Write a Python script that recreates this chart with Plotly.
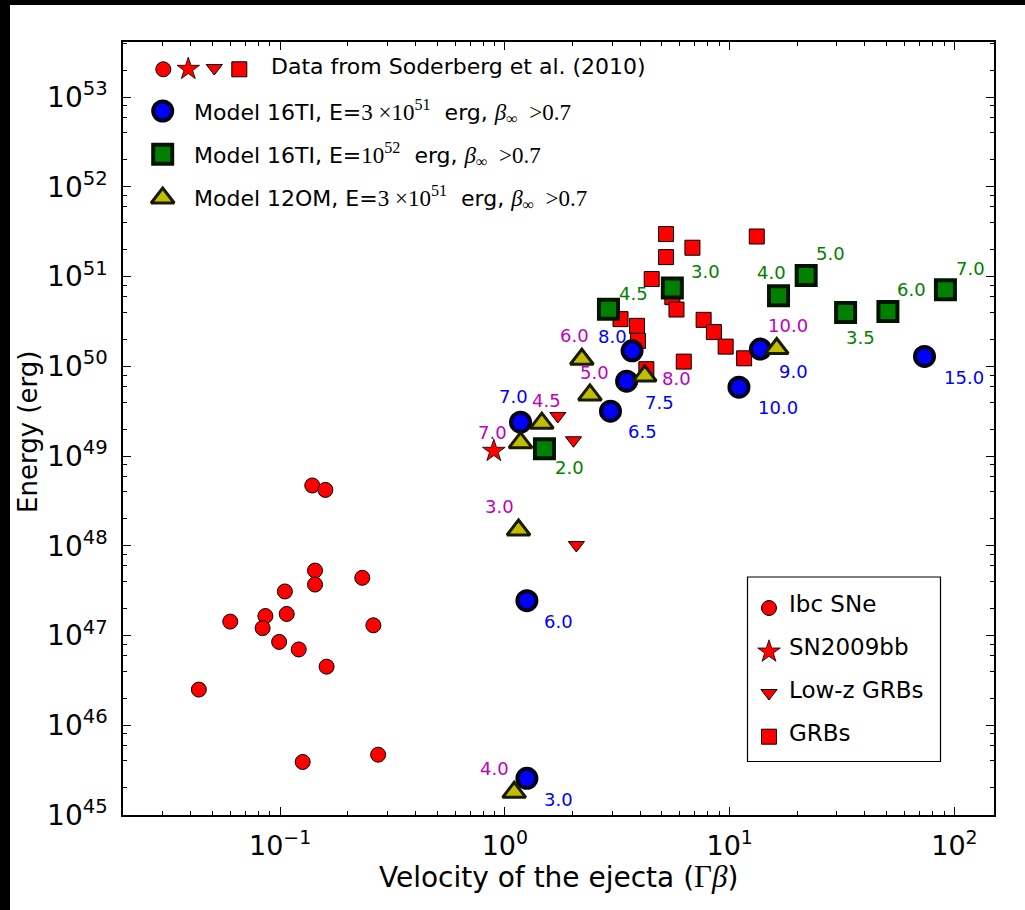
import numpy as np
import plotly.graph_objects as go

# ---------------- data ----------------
# Soderberg et al. (2010): velocity (Gamma*beta) and energy (erg)
ibc_v = [0.139, 0.159, 0.143, 0.143, 0.232, 0.105, 0.086, 0.107, 0.060, 0.0836,
         0.26, 0.099, 0.121, 0.161, 0.0435, 0.273, 0.126]
ibc_e = [4.7e48, 4.2e48, 5.3e47, 3.7e47, 4.4e47, 3.1e47, 1.65e47, 1.74e47, 1.43e47,
         1.21e47, 1.30e47, 8.5e46, 7.0e46, 4.5e46, 2.5e46, 4.7e45, 3.9e45]
sn09bb_v = [0.893]
sn09bb_e = [1.14e49]
lowz_v = [1.72, 2.02, 2.08]
lowz_e = [2.8e49, 1.5e49, 1.02e48]
grb_v = [5.21, 6.83, 5.21, 4.50, 5.56, 5.80, 3.27, 3.87, 3.91, 4.26, 6.25, 7.66,
         8.51, 9.60, 11.6, 13.2]
grb_e = [2.98e51, 2.10e51, 1.65e51, 9.4e50, 5.9e50, 4.3e50, 3.36e50, 2.83e50,
         1.92e50, 9.3e49, 1.13e50, 3.30e50, 2.41e50, 1.66e50, 1.23e50, 2.80e51]

# Model 16TI, E = 3e51 erg
m16a_v = [1.174, 2.95, 3.48, 3.68, 11.0, 13.7, 73.6, 1.253, 1.253]
m16a_e = [2.39e49, 3.17e49, 6.84e49, 1.49e50, 5.86e49, 1.56e50, 1.29e50, 2.45e47, 2.56e45]
m16a_lab = ["7.0", "6.5", "7.5", "8.0", "10.0", "9.0", "15.0", "6.0", "3.0"]

# Model 16TI, E = 1e52 erg
m16b_v = [2.89, 5.56, 1.50, 16.5, 21.9, 32.8, 50.6, 91.2]
m16b_e = [4.34e50, 7.45e50, 1.21e49, 6.11e50, 1.03e51, 3.98e50, 4.08e50, 7.13e50]
m16b_lab = ["4.5", "3.0", "2.0", "4.0", "5.0", "3.5", "6.0", "7.0"]

# Model 12OM, E = 3e51 erg
m12_v = [2.20, 2.39, 4.19, 1.46, 1.174, 16.2, 1.15, 1.10]
m12_e = [1.20e50, 4.81e49, 7.83e49, 2.33e49, 1.41e49, 1.58e50, 1.50e48, 1.79e45]
m12_lab = ["6.0", "5.0", "8.0", "4.5", "7.0", "10.0", "3.0", "4.0"]

x_ticks = [0.1, 1, 10, 100]
x_ticktext = ["10<sup>\u22121</sup>", "10<sup>0</sup>", "10<sup>1</sup>", "10<sup>2</sup>"]
y_exps = list(range(45, 54))

# ---------------- styling / layout geometry ----------------
W, H = 1025, 910
PX0, PX1, PY0, PY1 = 123, 994, 42, 815   # plot-area edges in pixels
SANS = "DejaVu Sans"
SERIF = "Liberation Serif"
NB = "\u00a0"

# label offsets (dx right, dy down, in px) for each annotated point
m16a_off = [(-7, -26), (32, 20), (33, 21), (-20, -14), (39, 20), (33, 22), (39, 21), (32, 21), (32, 21)]
m16b_off = [(25, -16), (33, -17), (25, 19), (-7, -23), (24, -22), (15, 25), (24, -22), (25, -21)]
m12_off = [(-7, -24), (5, -22), (32, 3), (5, -23), (-28, -10), (11, -23), (-19, -24), (-20, -24)]

RED = "#ff0000"
BLUE, BLUE_EDGE = "#0000ff", "#000018"
GREEN, GREEN_EDGE = "#008000", "#001400"
YEL, YEL_EDGE = "#bfbf00", "#1a1a00"
LAB_BLUE, LAB_GREEN, LAB_MAG = "#0000ff", "#008000", "#bf00bf"


def fx(px):
    return (px - PX0) / (PX1 - PX0)


def fy(py):
    return (PY1 - py) / (PY1 - PY0)


red_ibc = dict(symbol="circle", size=15, color=RED, line=dict(color="black", width=1))
red_star = dict(symbol="star", size=17, color=RED, line=dict(color="black", width=0.8))
red_tri = dict(symbol="triangle-down", size=14, color=RED, line=dict(color="black", width=1))
red_sq = dict(symbol="square", size=15, color=RED, line=dict(color="black", width=1))
mk_blue = dict(symbol="circle", size=19, color=BLUE, line=dict(color=BLUE_EDGE, width=4))
mk_green = dict(symbol="square", size=19, color=GREEN, line=dict(color=GREEN_EDGE, width=4))
mk_yel = dict(symbol="triangle-up", size=20, color=YEL, line=dict(color=YEL_EDGE, width=3))

fig = go.Figure()


def add_pts(xv, yv, marker):
    fig.add_trace(go.Scatter(x=xv, y=yv, mode="markers", marker=marker,
                             showlegend=False, hoverinfo="skip", cliponaxis=False))


add_pts(ibc_v, ibc_e, red_ibc)
add_pts(sn09bb_v, sn09bb_e, red_star)
add_pts(lowz_v, lowz_e, red_tri)
add_pts(grb_v, grb_e, red_sq)
add_pts(m16a_v, m16a_e, mk_blue)
add_pts(m16b_v, m16b_e, mk_green)
add_pts(m12_v, m12_e, mk_yel)

annotations = []


def add_labels(xv, yv, labels, offs, color):
    for xx, yy, t, (dx, dy) in zip(xv, yv, labels, offs):
        annotations.append(dict(x=np.log10(xx), y=np.log10(yy), xref="x", yref="y",
                                text=t, showarrow=False, xshift=dx, yshift=-dy,
                                font=dict(family=SANS, size=18, color=color)))


add_labels(m16a_v, m16a_e, m16a_lab, m16a_off, LAB_BLUE)
add_labels(m16b_v, m16b_e, m16b_lab, m16b_off, LAB_GREEN)
add_labels(m12_v, m12_e, m12_lab, m12_off, LAB_MAG)


# ---------------- legend keys (overlay axes in plot-area fractions) ----------------
def key(px, py, marker):
    fig.add_trace(go.Scatter(x=[fx(px)], y=[fy(py)], xaxis="x2", yaxis="y2",
                             mode="markers", marker=marker, showlegend=False,
                             hoverinfo="skip", cliponaxis=False))


# upper-left legend
key(163.3, 69.3, red_ibc)
key(188.3, 69.0, red_star)
key(214.3, 68.0, red_tri)
key(239.3, 69.3, red_sq)
key(162.7, 111.0, mk_blue)
key(162.7, 154.3, mk_green)
key(162.7, 198.0, mk_yel)


def math(s, size=23):
    return f"<span style='font-family:{SERIF};font-size:{size}px'>{s}</span>"


beta = math("<i>\u03b2</i><sub>\u221e</sub>" + NB + NB + "&gt;0.7")
ul_texts = [
    (269, 67, "Data from Soderberg et al. (2010)"),
    (192, 112, "Model 16TI, E=" + math("3" + NB + "\u00d710<sup>51</sup>") + NB + NB + "erg, " + beta),
    (192, 155, "Model 16TI, E=" + math("10<sup>52</sup>") + NB + NB + "erg, " + beta),
    (192, 197, "Model 12OM, E=" + math("3" + NB + "\u00d710<sup>51</sup>") + NB + NB + "erg, " + beta),
]
for px, py, t in ul_texts:
    annotations.append(dict(x=fx(px), y=fy(py), xref="paper", yref="paper", text=t,
                            showarrow=False, xanchor="left", yanchor="middle",
                            font=dict(family=SANS, size=22, color="black")))

# lower-right legend
key(769, 608, red_ibc)
key(769, 651.7, red_star)
key(769, 693, red_tri)
key(769, 736.7, red_sq)
lr_texts = [(787, 604, "Ibc SNe"), (787, 647, "SN2009bb"), (787, 690, "Low-z GRBs"), (787, 733, "GRBs")]
for px, py, t in lr_texts:
    annotations.append(dict(x=fx(px), y=fy(py), xref="paper", yref="paper", text=t,
                            showarrow=False, xanchor="left", yanchor="middle",
                            font=dict(family=SANS, size=23, color="black")))

# axis titles
annotations.append(dict(x=fx((PX0 + PX1) / 2), y=fy(876), xref="paper", yref="paper",
                        text="Velocity of the ejecta (" + math("\u0393<i>\u03b2</i>", 31) + ")",
                        showarrow=False, xanchor="center", yanchor="middle",
                        font=dict(family=SANS, size=28, color="black")))
annotations.append(dict(x=fx(28), y=fy(432), xref="paper", yref="paper",
                        text="Energy (erg)", textangle=-90,
                        showarrow=False, xanchor="center", yanchor="middle",
                        font=dict(family=SANS, size=26, color="black")))

shapes = [
    # legend frame
    dict(type="rect", xref="paper", yref="paper", x0=fx(747.5), x1=fx(940.5),
         y0=fy(761.5), y1=fy(577), line=dict(color="black", width=1.2), fillcolor="rgba(0,0,0,0)"),
    # dark page edges
    dict(type="rect", xref="paper", yref="paper", x0=fx(0), x1=fx(W), y0=fy(0), y1=fy(5),
         line=dict(width=0), fillcolor="black", layer="above"),
    dict(type="rect", xref="paper", yref="paper", x0=fx(0), x1=fx(10), y0=fy(0), y1=fy(H),
         line=dict(width=0), fillcolor="black", layer="above"),
]

x_minor = [m * 10.0 ** d for d in range(-2, 3) for m in range(2, 10) if 0.02 < m * 10.0 ** d < 150]
y_minor = [m * 10.0 ** d for d in range(45, 54) for m in (2, 4, 6, 8)]

axis_common = dict(type="log", showgrid=False, zeroline=False, showline=True,
                   linecolor="black", linewidth=1.5, mirror="ticks", ticks="inside",
                   ticklen=8, tickwidth=1.2, tickcolor="black")

fig.update_layout(
    width=W, height=H,
    margin=dict(l=PX0, r=W - PX1, t=PY0, b=H - PY1, pad=0),
    paper_bgcolor="white", plot_bgcolor="white",
    showlegend=False,
    xaxis=dict(**axis_common, range=[np.log10(0.02), np.log10(150)],
               tickvals=x_ticks, ticktext=x_ticktext, ticklabelstandoff=6,
               tickfont=dict(family=SANS, size=27, color="black"),
               minor=dict(tickvals=x_minor, ticks="inside", ticklen=4, tickwidth=1, tickcolor="black")),
    yaxis=dict(**axis_common, range=[45, 53.615],
               tickvals=[10.0 ** e for e in y_exps],
               ticktext=[f"10<sup>{e}</sup>" for e in y_exps], ticklabelstandoff=8,
               tickfont=dict(family=SANS, size=28, color="black"),
               minor=dict(tickvals=y_minor, ticks="inside", ticklen=4, tickwidth=1, tickcolor="black")),
    xaxis2=dict(overlaying="x", range=[0, 1], visible=False, fixedrange=True),
    yaxis2=dict(overlaying="y", range=[0, 1], visible=False, fixedrange=True),
    annotations=annotations,
    shapes=shapes,
)

fig.write_html("out.html")
